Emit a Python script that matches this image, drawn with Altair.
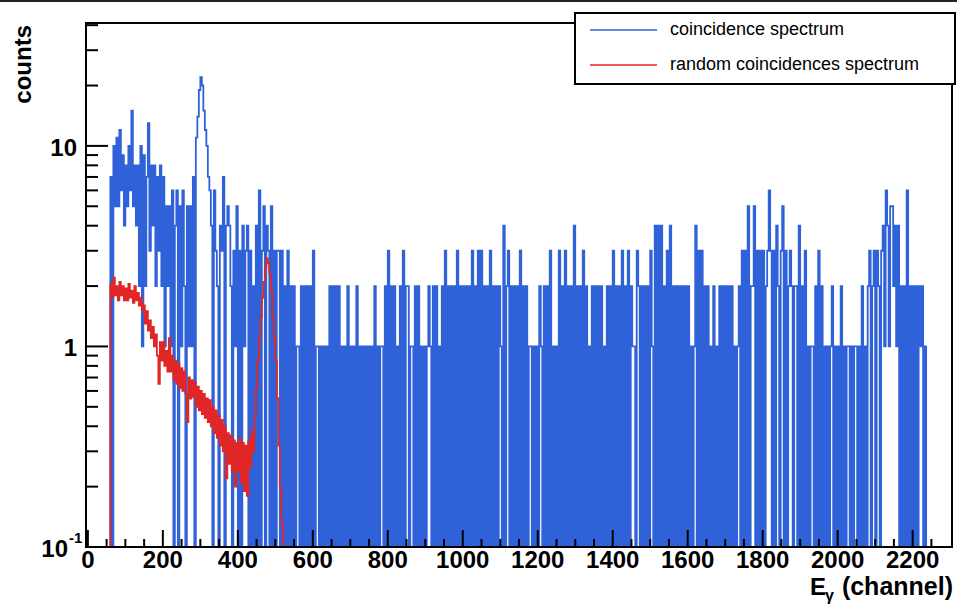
import altair as alt
import pandas as pd

# ---------------------------------------------------------------------------
# Histogram contents (4-channel bins, counts per bin)
# ---------------------------------------------------------------------------
BIN_WIDTH = 4
X_MIN, X_END = -5, 2305
Y_MIN, Y_MAX = 0.1, 41

# coincidence spectrum, channels 0-396
blue_0000 = [0, 0, 0, 0, 0, 0, 0, 0, 0, 0, 0, 0, 0, 0, 0, 7, 0, 10, 5, 11, 5, 12, 6, 9, 4,
             8, 5, 10, 6, 15, 5, 8, 4, 8, 2, 10, 1, 9, 2, 7, 13, 3, 8, 4, 8, 2, 7, 3, 8, 2,
             7, 1, 5, 2, 5, 1, 6, 0, 4, 6, 0, 5, 1, 6, 2, 0, 5, 1, 5, 1, 7, 0, 11, 14, 19,
             22, 20, 15, 12, 10, 7, 6, 4, 0, 6, 3, 2, 0, 4, 3, 7, 0, 4, 5, 4, 2, 0, 3, 1, 5]
# channels 400-796
blue_0400 = [0, 3, 0, 4, 1, 3, 4, 0, 3, 0, 2, 0, 4, 0, 6, 0, 3, 5, 0, 4, 3, 0, 5, 0, 3,
             0, 3, 3, 0, 3, 0, 2, 0, 3, 0, 2, 0, 2, 0, 1, 1, 0, 2, 0, 2, 0, 2, 0, 2, 0,
             3, 0, 1, 1, 0, 1, 0, 1, 0, 1, 0, 2, 0, 2, 0, 2, 0, 2, 0, 1, 0, 1, 0, 2, 0,
             1, 0, 1, 0, 2, 0, 1, 0, 1, 0, 1, 0, 1, 0, 1, 0, 2, 0, 1, 0, 1, 1, 0, 2, 0]
# channels 800-1196
blue_0800 = [3, 0, 2, 0, 2, 0, 1, 0, 2, 0, 3, 0, 2, 2, 0, 1, 1, 0, 2, 0, 2, 0, 1, 0, 1,
             0, 1, 2, 1, 0, 2, 0, 2, 0, 1, 0, 2, 0, 3, 0, 2, 0, 2, 0, 2, 0, 3, 0, 2, 0,
             2, 0, 2, 0, 2, 0, 3, 0, 2, 0, 3, 0, 3, 0, 2, 0, 2, 0, 3, 0, 2, 0, 2, 0, 2,
             1, 0, 4, 0, 2, 3, 0, 2, 0, 2, 0, 2, 0, 3, 0, 2, 0, 2, 0, 1, 1, 0, 1, 0, 1]
# channels 1200-1596
blue_1200 = [0, 2, 1, 0, 2, 0, 2, 0, 3, 0, 1, 0, 1, 0, 3, 0, 2, 0, 3, 0, 2, 0, 2, 0, 4,
             0, 2, 0, 2, 0, 3, 0, 2, 0, 1, 0, 2, 0, 2, 0, 2, 0, 2, 0, 1, 0, 2, 0, 2, 0,
             3, 0, 2, 0, 2, 0, 3, 0, 2, 0, 3, 0, 2, 1, 1, 0, 3, 2, 0, 2, 0, 2, 0, 2, 0,
             3, 1, 0, 4, 0, 4, 0, 4, 0, 2, 0, 3, 0, 4, 0, 2, 0, 2, 0, 2, 0, 2, 0, 2, 0]
# channels 1600-1996
blue_1600 = [2, 0, 1, 0, 1, 4, 0, 3, 0, 3, 0, 2, 0, 2, 0, 1, 0, 2, 0, 1, 0, 2, 0, 2, 0,
             2, 0, 2, 0, 2, 0, 1, 0, 1, 2, 0, 3, 0, 3, 0, 5, 0, 2, 2, 5, 0, 3, 0, 3, 0,
             3, 0, 2, 3, 6, 3, 0, 3, 0, 4, 2, 0, 3, 5, 0, 3, 0, 2, 3, 2, 0, 2, 2, 0, 4,
             0, 2, 0, 3, 0, 1, 0, 1, 1, 0, 2, 0, 3, 0, 2, 0, 1, 0, 1, 0, 1, 2, 0, 1, 0]
# channels 2000-2296
blue_2000 = [1, 0, 2, 0, 1, 0, 1, 1, 0, 1, 0, 1, 1, 0, 1, 0, 2, 0, 1, 0, 2, 3, 0, 2, 3,
             0, 3, 2, 0, 3, 4, 1, 6, 4, 1, 5, 5, 2, 4, 1, 4, 0, 2, 0, 2, 0, 6, 0, 2, 0,
             2, 0, 2, 0, 2, 1, 2, 0, 1, 0, 0, 0, 0, 0, 0, 0, 0, 0, 0, 0, 0, 0, 0, 0, 0]

# random coincidences spectrum, channels 0-196
red_0000 = [0, 0, 0, 0, 0, 0, 0, 0, 0, 0, 0, 0, 0, 0, 0,
            2.05, 1.75, 2.2, 1.8, 2.0, 1.7, 2.1, 1.8, 2.0, 1.7,
            1.95, 1.7, 2.05, 1.75, 1.9, 1.65, 2.0, 1.7, 1.85, 1.6,
            1.75, 1.5, 1.6, 1.3, 1.5, 1.2, 1.35, 1.1, 1.25, 1.0,
            1.15, 0.9, 0.65, 1.05, 0.85]
# channels 200-396
red_0200 = [1.05, 0.8, 0.95, 0.75, 1.1, 0.75, 0.9, 0.68, 0.85, 0.65,
            0.82, 0.62, 0.78, 0.6, 0.75, 0.58, 0.42, 0.7, 0.55, 0.68,
            0.56, 0.66, 0.5, 0.63, 0.48, 0.6, 0.46, 0.58, 0.44, 0.55,
            0.42, 0.54, 0.4, 0.5, 0.37, 0.48, 0.35, 0.45, 0.32, 0.43,
            0.3, 0.4, 0.22, 0.37, 0.26, 0.36, 0.24, 0.34, 0.2, 0.33]
# channels 400-520
red_0400 = [0.24, 0.35, 0.21, 0.33, 0.19, 0.32, 0.18, 0.34, 0.25, 0.38,
            0.3, 0.45, 0.62, 0.85, 1.1, 1.4, 1.75, 2.1, 2.45, 2.75,
            2.6, 2.3, 1.9, 1.4, 1.1, 0.85, 0.55, 0.32, 0.2, 0.13, 0]

coincidence = blue_0000 + blue_0400 + blue_0800 + blue_1200 + blue_1600 + blue_2000
random_coinc = red_0000 + red_0200 + red_0400

# axis decoration
x_major = list(range(0, 2201, 200))
x_minor = [c for c in range(50, 2251, 50) if c % 200]
y_major = [0.1, 1, 10]
y_minor = [0.2, 0.3, 0.4, 0.5, 0.6, 0.7, 0.8, 0.9,
           2, 3, 4, 5, 6, 7, 8, 9, 20, 30, 40]

BLUE = "#2f62d8"
RED = "#e02626"
FONT = "Liberation Sans"
W, H = 866, 524
LINE_W = 1.8


def step_table(counts):
    ch = [i * BIN_WIDTH for i in range(len(counts))] + [X_END]
    n = list(counts) + [0]
    return pd.DataFrame({"ch": ch, "n": n})


xscale = alt.Scale(domain=[X_MIN, X_END], nice=False, zero=False)
yscale = alt.Scale(type="log", domain=[Y_MIN, Y_MAX], nice=False)


def spectrum(counts, color):
    return (
        alt.Chart(step_table(counts))
        .transform_calculate(y="max(datum.n, 0.1)")
        .mark_line(interpolate="step-after", color=color, strokeWidth=LINE_W)
        .encode(
            x=alt.X("ch:Q", scale=xscale, axis=None),
            y=alt.Y("y:Q", scale=yscale, axis=None),
        )
    )


blue = spectrum(coincidence, BLUE)
red = spectrum(random_coinc, RED)

one = pd.DataFrame({"k": [0]})

frame = alt.Chart(one).mark_rect(fillOpacity=0, stroke="black", strokeWidth=2).encode(
    x=alt.value(0), x2=alt.value(W), y=alt.value(0), y2=alt.value(H))

# thin border along the top of the canvas
canvas_top = alt.Chart(one).mark_rule(color="#222222", strokeWidth=2).encode(
    x=alt.value(-86), x2=alt.value(W + 5), y=alt.value(-22))


def xticks(vals, length):
    return alt.Chart(pd.DataFrame({"ch": vals})).mark_rule(
        color="black", strokeWidth=2).encode(
        x=alt.X("ch:Q", scale=xscale, axis=None),
        y=alt.value(H), y2=alt.value(H - length))


def yticks(vals, length):
    return alt.Chart(pd.DataFrame({"y": vals})).mark_rule(
        color="black", strokeWidth=2).encode(
        y=alt.Y("y:Q", scale=yscale, axis=None),
        x=alt.value(0), x2=alt.value(length))


# tick labels along the channel axis
x_labels = alt.Chart(pd.DataFrame({"ch": x_major, "t": [str(v) for v in x_major]})).mark_text(
    font=FONT, fontSize=24, fontWeight="bold", align="center", baseline="alphabetic",
    color="black").encode(
    x=alt.X("ch:Q", scale=xscale, axis=None), y=alt.value(H + 21), text="t:N")


def label(text, x, y, size, weight="bold", align="left", baseline="alphabetic", angle=0):
    return alt.Chart(one).mark_text(
        text=text, font=FONT, fontSize=size, fontWeight=weight, align=align,
        baseline=baseline, angle=angle, color="black").encode(
        x=alt.value(x), y=alt.value(y))


legend_box = alt.Chart(one).mark_rect(fill="white", stroke="black", strokeWidth=2).encode(
    x=alt.value(489), x2=alt.value(869), y=alt.value(-10), y2=alt.value(61))
legend_blue = alt.Chart(one).mark_rule(color=BLUE, strokeWidth=1.3).encode(
    x=alt.value(504), x2=alt.value(571), y=alt.value(7))
legend_red = alt.Chart(one).mark_rule(color=RED, strokeWidth=1.3).encode(
    x=alt.value(504), x2=alt.value(571), y=alt.value(42))

chart = alt.layer(
    blue, red, frame, canvas_top,
    xticks(x_major, 17), xticks(x_minor, 8),
    yticks(y_major, 22), yticks(y_minor, 12),
    x_labels,
    label("10", -18, H + 3, 24, align="right", baseline="middle"),
    label("-1", -17, H - 4, 15),
    label("1", -9, 326, 24, align="right", baseline="middle"),
    label("10", -9, 126, 24, align="right", baseline="middle"),
    label("counts", -55, 2, 24, align="right", angle=270),
    label("E", 724, 572, 24),
    label("γ", 739, 578, 16),
    label("(channel)", 867, 572, 25, align="right"),
    legend_box, legend_blue, legend_red,
    label("coincidence spectrum", 584, 7, 18, weight="normal", baseline="middle"),
    label("random coincidences spectrum", 584, 42, 18, weight="normal", baseline="middle"),
).properties(
    width=W, height=H,
    autosize=alt.AutoSizeParams(type="none"),
    padding={"left": 86, "top": 23, "right": 5, "bottom": 57},
    background="white",
).configure_view(strokeWidth=0)

chart.save("out.html", embed_options={"renderer": "svg", "actions": False})
